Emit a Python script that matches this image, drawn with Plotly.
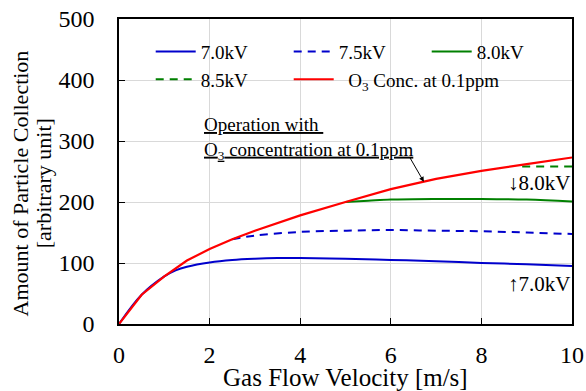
import plotly.graph_objects as go

# Data
x_o3 = [0, 0.5, 1, 1.5, 2, 2.5, 3, 3.5, 4, 5, 6, 7, 8, 9, 10]
y_o3 = [0, 48, 78, 104, 123, 139, 153, 166, 178, 200, 221, 238, 251, 262, 273]

x_70 = [0, 0.5, 1, 1.25, 1.5, 2, 2.5, 3, 3.5, 4, 5, 6, 7, 8, 9, 10]
y_70 = [0, 48, 78, 88, 94, 101, 105, 107, 108, 108, 107, 105, 103, 100, 98, 95]

x_75 = [2.5, 3, 4, 5, 6, 7, 8, 9, 10]
y_75 = [139, 145, 151, 153, 154, 153, 152, 150, 147.5]

x_80 = [5, 5.5, 6, 7, 8, 9, 10]
y_80 = [200, 202, 204, 205, 205, 204, 201]

x_85 = [8.9, 9.5, 10]
y_85 = [258, 258, 258]

x_ticks = [0, 2, 4, 6, 8, 10]
y_ticks = [0, 100, 200, 300, 400, 500]

FONT = "Liberation Serif"
DASH = "8px,6px"

fig = go.Figure()
fig.add_trace(go.Scatter(x=x_70, y=y_70, mode="lines", name="7.0kV",
                         line=dict(color="#0000cc", width=2, shape="spline")))
fig.add_trace(go.Scatter(x=x_75, y=y_75, mode="lines", name="7.5kV",
                         line=dict(color="#0000cc", width=2, dash=DASH, shape="spline")))
fig.add_trace(go.Scatter(x=x_80, y=y_80, mode="lines", name="8.0kV",
                         line=dict(color="#008000", width=2, shape="spline")))
fig.add_trace(go.Scatter(x=x_85, y=y_85, mode="lines", name="8.5kV",
                         line=dict(color="#008000", width=2, dash=DASH)))
fig.add_trace(go.Scatter(x=x_o3, y=y_o3, mode="lines", name="&nbsp;&nbsp;O<sub>3</sub> Conc. at 0.1ppm",
                         line=dict(color="#ff0000", width=2.2)))

fig.update_layout(
    width=586, height=391,
    margin=dict(l=119, r=14, t=19, b=67, autoexpand=False),
    paper_bgcolor="white", plot_bgcolor="white",
    font=dict(family=FONT, size=19, color="black"),
    showlegend=True,
    legend=dict(orientation="h", x=0.07, xanchor="left", y=0.955, yanchor="top",
                bgcolor="rgba(0,0,0,0)", font=dict(size=19, family=FONT),
                itemwidth=40, entrywidth=83, entrywidthmode="pixels", tracegroupgap=0),
    xaxis=dict(range=[0, 10], tickvals=x_ticks, showgrid=True, gridcolor="#d9d9d9",
               showline=True, linecolor="black", linewidth=1.5, mirror=True,
               ticks="inside", ticklen=6, tickcolor="black", zeroline=False,
               tickfont=dict(size=24, family=FONT), ticklabelstandoff=8,
               automargin=False),
    yaxis=dict(range=[0, 500], tickvals=y_ticks, showgrid=True, gridcolor="#d9d9d9",
               showline=True, linecolor="black", linewidth=1.5, mirror=True,
               ticks="inside", ticklen=6, tickcolor="black", zeroline=False,
               tickfont=dict(size=24, family=FONT), ticklabelstandoff=18,
               automargin=False),
)

# axis titles
fig.add_annotation(x=0.5, y=-0.176, xref="paper", yref="paper", xanchor="center", yanchor="middle",
                   text="Gas Flow Velocity [m/s]", showarrow=False, font=dict(size=25, family=FONT))
fig.add_annotation(x=-0.2185, y=0.461, xref="paper", yref="paper", xanchor="center", yanchor="middle",
                   text="Amount of Particle Collection", textangle=-90, showarrow=False,
                   font=dict(size=22, family=FONT))
fig.add_annotation(x=-0.168, y=0.461, xref="paper", yref="paper", xanchor="center", yanchor="middle",
                   text="[arbitrary unit]", textangle=-90, showarrow=False,
                   font=dict(size=22, family=FONT))

fig.add_annotation(x=0.183, y=0.52, xref="paper", yref="paper", xanchor="left", yanchor="bottom",
                   text="<u>Operation with </u><br><u>O<sub>3</sub> concentration at 0.1ppm</u>",
                   showarrow=False, align="left", font=dict(size=19, family=FONT))
fig.add_annotation(x=6.73, y=233, ax=-15, ay=-26,
                   xref="x", yref="y", text="", showarrow=True, arrowhead=2,
                   arrowsize=1, arrowwidth=1, arrowcolor="black")
fig.add_annotation(x=10, y=208, xref="x", yref="y", xanchor="right", yanchor="bottom",
                   text="↓8.0kV", showarrow=False, font=dict(size=21, family=FONT))
fig.add_annotation(x=10, y=88, xref="x", yref="y", xanchor="right", yanchor="top",
                   text="↑7.0kV", showarrow=False, font=dict(size=21, family=FONT))

fig.write_html("out.html")
